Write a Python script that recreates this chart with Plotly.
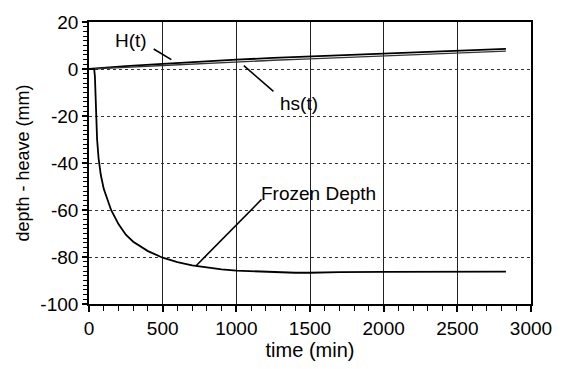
import plotly.graph_objects as go

# Heave curves
t_heave = [0, 50, 250, 500, 750, 1000, 1250, 1500, 1750, 2000, 2250, 2500, 2750, 2830]
H_t = [0, 0.3, 1.2, 2.2, 3.2, 4.0, 4.7, 5.3, 5.9, 6.4, 7.0, 7.6, 8.3, 8.6]
hs_t = [0, 0.1, 0.7, 1.5, 2.3, 3.0, 3.7, 4.3, 4.9, 5.4, 6.0, 6.7, 7.4, 7.6]

# Frozen depth curve
t_frozen = [0, 35, 40, 43, 48, 55, 65, 80, 100, 125, 150, 200, 250, 300, 400, 500,
            600, 700, 800, 900, 1000, 1200, 1400, 1500, 1700, 2000, 2500, 2830]
frozen_depth = [0, 0, -3, -10, -20, -30, -38, -45, -51, -56, -60, -66, -70.5, -73.5,
                -77.5, -80.3, -82.2, -83.6, -84.6, -85.3, -85.8, -86.3, -86.7, -86.7,
                -86.4, -86.3, -86.2, -86.2]

x_ticks = [0, 500, 1000, 1500, 2000, 2500, 3000]
y_ticks = [-100, -80, -60, -40, -20, 0, 20]

FONT = "Liberation Sans, Arial, sans-serif"

fig = go.Figure()
fig.add_trace(go.Scatter(x=t_heave, y=H_t, mode="lines",
                         line=dict(color="black", width=1.8), name="H(t)"))
fig.add_trace(go.Scatter(x=t_heave, y=hs_t, mode="lines",
                         line=dict(color="#333333", width=1.4), name="hs(t)"))
fig.add_trace(go.Scatter(x=t_frozen, y=frozen_depth, mode="lines",
                         line=dict(color="black", width=1.8), name="Frozen Depth"))

# Labels with leader lines
labels = [
    dict(text="H(t)", x=283, y=12.1, x0=439, y0=8.5, x1=559, y1=4.0),
    dict(text="hs(t)", x=1425, y=-14.6, x0=1252, y0=-9.5, x1=1051, y1=1.4),
    dict(text="Frozen Depth", x=1555, y=-52.8, x0=1171, y0=-55.5, x1=727, y1=-83.7),
]
for lb in labels:
    fig.add_annotation(x=lb["x"], y=lb["y"], text=lb["text"], showarrow=False,
                       font=dict(family=FONT, size=19, color="black"))
    fig.add_shape(type="line", x0=lb["x0"], y0=lb["y0"], x1=lb["x1"], y1=lb["y1"],
                  xref="x", yref="y", line=dict(color="black", width=1.6))

fig.update_layout(
    width=564, height=369,
    margin=dict(l=89, r=23, t=14, b=58),
    paper_bgcolor="white", plot_bgcolor="white",
    showlegend=False,
    font=dict(family=FONT, size=19, color="black"),
)
fig.update_xaxes(
    range=[0, 3000], tickvals=x_ticks, ticktext=[str(v) for v in x_ticks],
    showline=True, linecolor="black", linewidth=1.6, mirror=True,
    ticks="outside", ticklen=6, tickwidth=1.5, tickcolor="black",
    showgrid=True, gridcolor="#222222", gridwidth=1, griddash="solid",
    zeroline=False,
    minor=dict(dtick=100, ticks="outside", ticklen=5, tickwidth=1.3, tickcolor="black", showgrid=False),
    title=dict(text="time (min)", font=dict(size=20), standoff=4),
    tickfont=dict(size=19),
)
fig.update_yaxes(
    range=[-100, 20], tickvals=y_ticks, ticktext=[str(v) for v in y_ticks],
    showline=True, linecolor="black", linewidth=1.6, mirror=True,
    ticks="outside", ticklen=5, tickwidth=1.5, tickcolor="black",
    showgrid=True, gridcolor="#333333", gridwidth=1, griddash="dot",
    zeroline=False,
    minor=dict(dtick=2, ticks="outside", ticklen=4, tickwidth=1.2, tickcolor="black", showgrid=False),
    title=dict(text="depth - heave (mm)", font=dict(size=18), standoff=6),
    tickfont=dict(size=19),
)

fig.write_html("out.html")
